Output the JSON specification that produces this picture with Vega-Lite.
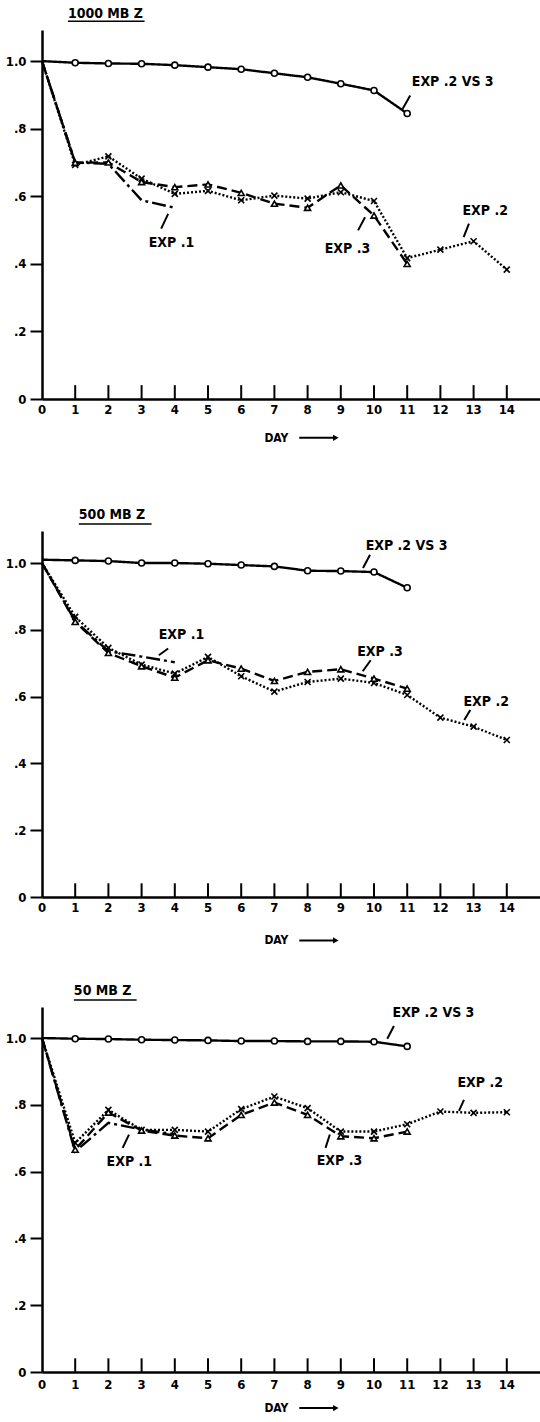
{
  "$schema": "https://vega.github.io/schema/vega-lite/v6.json",
  "padding": {"top": 7, "left": 5, "right": 0, "bottom": 0},
  "background": "white",
  "config": {
    "view": {"stroke": null},
    "font": "DejaVu Sans Condensed",
    "text": {"font": "DejaVu Sans Condensed", "fontWeight": "bold", "color": "black"},
    "axis": {"domainColor": "black", "tickColor": "black", "labelColor": "black", "labelFont": "DejaVu Sans Condensed", "labelFontWeight": "bold", "labelFontSize": 13, "grid": false, "title": null, "labelOverlap": false}
  },
  "datasets": {
    "one": [{}],
    "series": [
      {"p": "1000", "s": "EXP .2 VS 3", "d": 0, "v": 1.0},
      {"p": "1000", "s": "EXP .2 VS 3", "d": 1, "v": 0.995},
      {"p": "1000", "s": "EXP .2 VS 3", "d": 2, "v": 0.993},
      {"p": "1000", "s": "EXP .2 VS 3", "d": 3, "v": 0.992},
      {"p": "1000", "s": "EXP .2 VS 3", "d": 4, "v": 0.988},
      {"p": "1000", "s": "EXP .2 VS 3", "d": 5, "v": 0.982},
      {"p": "1000", "s": "EXP .2 VS 3", "d": 6, "v": 0.976},
      {"p": "1000", "s": "EXP .2 VS 3", "d": 7, "v": 0.964},
      {"p": "1000", "s": "EXP .2 VS 3", "d": 8, "v": 0.952},
      {"p": "1000", "s": "EXP .2 VS 3", "d": 9, "v": 0.933},
      {"p": "1000", "s": "EXP .2 VS 3", "d": 10, "v": 0.913},
      {"p": "1000", "s": "EXP .2 VS 3", "d": 11, "v": 0.845},
      {"p": "1000", "s": "EXP .1", "d": 0, "v": 1.0},
      {"p": "1000", "s": "EXP .1", "d": 1, "v": 0.70},
      {"p": "1000", "s": "EXP .1", "d": 2, "v": 0.696},
      {"p": "1000", "s": "EXP .1", "d": 3, "v": 0.588},
      {"p": "1000", "s": "EXP .1", "d": 4, "v": 0.566},
      {"p": "1000", "s": "EXP .2", "d": 0, "v": 1.0},
      {"p": "1000", "s": "EXP .2", "d": 1, "v": 0.693},
      {"p": "1000", "s": "EXP .2", "d": 2, "v": 0.718},
      {"p": "1000", "s": "EXP .2", "d": 3, "v": 0.652},
      {"p": "1000", "s": "EXP .2", "d": 4, "v": 0.607},
      {"p": "1000", "s": "EXP .2", "d": 5, "v": 0.616},
      {"p": "1000", "s": "EXP .2", "d": 6, "v": 0.588},
      {"p": "1000", "s": "EXP .2", "d": 7, "v": 0.602},
      {"p": "1000", "s": "EXP .2", "d": 8, "v": 0.593},
      {"p": "1000", "s": "EXP .2", "d": 9, "v": 0.612},
      {"p": "1000", "s": "EXP .2", "d": 10, "v": 0.586},
      {"p": "1000", "s": "EXP .2", "d": 11, "v": 0.417},
      {"p": "1000", "s": "EXP .2", "d": 12, "v": 0.442},
      {"p": "1000", "s": "EXP .2", "d": 13, "v": 0.467},
      {"p": "1000", "s": "EXP .2", "d": 14, "v": 0.383},
      {"p": "1000", "s": "EXP .3", "d": 0, "v": 1.0},
      {"p": "1000", "s": "EXP .3", "d": 1, "v": 0.699},
      {"p": "1000", "s": "EXP .3", "d": 2, "v": 0.70},
      {"p": "1000", "s": "EXP .3", "d": 3, "v": 0.642},
      {"p": "1000", "s": "EXP .3", "d": 4, "v": 0.627},
      {"p": "1000", "s": "EXP .3", "d": 5, "v": 0.635},
      {"p": "1000", "s": "EXP .3", "d": 6, "v": 0.61},
      {"p": "1000", "s": "EXP .3", "d": 7, "v": 0.578},
      {"p": "1000", "s": "EXP .3", "d": 8, "v": 0.566},
      {"p": "1000", "s": "EXP .3", "d": 9, "v": 0.632},
      {"p": "1000", "s": "EXP .3", "d": 10, "v": 0.543},
      {"p": "1000", "s": "EXP .3", "d": 11, "v": 0.40},
      {"p": "500", "s": "EXP .2 VS 3", "d": 0, "v": 1.01},
      {"p": "500", "s": "EXP .2 VS 3", "d": 1, "v": 1.008},
      {"p": "500", "s": "EXP .2 VS 3", "d": 2, "v": 1.006},
      {"p": "500", "s": "EXP .2 VS 3", "d": 3, "v": 1.0},
      {"p": "500", "s": "EXP .2 VS 3", "d": 4, "v": 1.0},
      {"p": "500", "s": "EXP .2 VS 3", "d": 5, "v": 0.998},
      {"p": "500", "s": "EXP .2 VS 3", "d": 6, "v": 0.994},
      {"p": "500", "s": "EXP .2 VS 3", "d": 7, "v": 0.99},
      {"p": "500", "s": "EXP .2 VS 3", "d": 8, "v": 0.977},
      {"p": "500", "s": "EXP .2 VS 3", "d": 9, "v": 0.976},
      {"p": "500", "s": "EXP .2 VS 3", "d": 10, "v": 0.973},
      {"p": "500", "s": "EXP .2 VS 3", "d": 11, "v": 0.926},
      {"p": "500", "s": "EXP .1", "d": 0, "v": 1.0},
      {"p": "500", "s": "EXP .1", "d": 1, "v": 0.826},
      {"p": "500", "s": "EXP .1", "d": 2, "v": 0.736},
      {"p": "500", "s": "EXP .1", "d": 3, "v": 0.72},
      {"p": "500", "s": "EXP .1", "d": 4, "v": 0.703},
      {"p": "500", "s": "EXP .2", "d": 0, "v": 1.0},
      {"p": "500", "s": "EXP .2", "d": 1, "v": 0.839},
      {"p": "500", "s": "EXP .2", "d": 2, "v": 0.746},
      {"p": "500", "s": "EXP .2", "d": 3, "v": 0.696},
      {"p": "500", "s": "EXP .2", "d": 4, "v": 0.669},
      {"p": "500", "s": "EXP .2", "d": 5, "v": 0.719},
      {"p": "500", "s": "EXP .2", "d": 6, "v": 0.661},
      {"p": "500", "s": "EXP .2", "d": 7, "v": 0.615},
      {"p": "500", "s": "EXP .2", "d": 8, "v": 0.644},
      {"p": "500", "s": "EXP .2", "d": 9, "v": 0.654},
      {"p": "500", "s": "EXP .2", "d": 10, "v": 0.641},
      {"p": "500", "s": "EXP .2", "d": 11, "v": 0.605},
      {"p": "500", "s": "EXP .2", "d": 12, "v": 0.537},
      {"p": "500", "s": "EXP .2", "d": 13, "v": 0.51},
      {"p": "500", "s": "EXP .2", "d": 14, "v": 0.47},
      {"p": "500", "s": "EXP .3", "d": 0, "v": 1.0},
      {"p": "500", "s": "EXP .3", "d": 1, "v": 0.824},
      {"p": "500", "s": "EXP .3", "d": 2, "v": 0.731},
      {"p": "500", "s": "EXP .3", "d": 3, "v": 0.691},
      {"p": "500", "s": "EXP .3", "d": 4, "v": 0.657},
      {"p": "500", "s": "EXP .3", "d": 5, "v": 0.709},
      {"p": "500", "s": "EXP .3", "d": 6, "v": 0.684},
      {"p": "500", "s": "EXP .3", "d": 7, "v": 0.647},
      {"p": "500", "s": "EXP .3", "d": 8, "v": 0.674},
      {"p": "500", "s": "EXP .3", "d": 9, "v": 0.682},
      {"p": "500", "s": "EXP .3", "d": 10, "v": 0.654},
      {"p": "500", "s": "EXP .3", "d": 11, "v": 0.624},
      {"p": "50", "s": "EXP .2 VS 3", "d": 0, "v": 1.0},
      {"p": "50", "s": "EXP .2 VS 3", "d": 1, "v": 0.998},
      {"p": "50", "s": "EXP .2 VS 3", "d": 2, "v": 0.997},
      {"p": "50", "s": "EXP .2 VS 3", "d": 3, "v": 0.995},
      {"p": "50", "s": "EXP .2 VS 3", "d": 4, "v": 0.994},
      {"p": "50", "s": "EXP .2 VS 3", "d": 5, "v": 0.993},
      {"p": "50", "s": "EXP .2 VS 3", "d": 6, "v": 0.991},
      {"p": "50", "s": "EXP .2 VS 3", "d": 7, "v": 0.991},
      {"p": "50", "s": "EXP .2 VS 3", "d": 8, "v": 0.99},
      {"p": "50", "s": "EXP .2 VS 3", "d": 9, "v": 0.99},
      {"p": "50", "s": "EXP .2 VS 3", "d": 10, "v": 0.989},
      {"p": "50", "s": "EXP .2 VS 3", "d": 11, "v": 0.975},
      {"p": "50", "s": "EXP .1", "d": 0, "v": 1.0},
      {"p": "50", "s": "EXP .1", "d": 1, "v": 0.66},
      {"p": "50", "s": "EXP .1", "d": 2, "v": 0.746},
      {"p": "50", "s": "EXP .1", "d": 3, "v": 0.726},
      {"p": "50", "s": "EXP .1", "d": 4, "v": 0.712},
      {"p": "50", "s": "EXP .2", "d": 0, "v": 1.0},
      {"p": "50", "s": "EXP .2", "d": 1, "v": 0.686},
      {"p": "50", "s": "EXP .2", "d": 2, "v": 0.785},
      {"p": "50", "s": "EXP .2", "d": 3, "v": 0.725},
      {"p": "50", "s": "EXP .2", "d": 4, "v": 0.725},
      {"p": "50", "s": "EXP .2", "d": 5, "v": 0.72},
      {"p": "50", "s": "EXP .2", "d": 6, "v": 0.787},
      {"p": "50", "s": "EXP .2", "d": 7, "v": 0.825},
      {"p": "50", "s": "EXP .2", "d": 8, "v": 0.79},
      {"p": "50", "s": "EXP .2", "d": 9, "v": 0.72},
      {"p": "50", "s": "EXP .2", "d": 10, "v": 0.72},
      {"p": "50", "s": "EXP .2", "d": 11, "v": 0.742},
      {"p": "50", "s": "EXP .2", "d": 12, "v": 0.78},
      {"p": "50", "s": "EXP .2", "d": 13, "v": 0.776},
      {"p": "50", "s": "EXP .2", "d": 14, "v": 0.778},
      {"p": "50", "s": "EXP .3", "d": 0, "v": 1.0},
      {"p": "50", "s": "EXP .3", "d": 1, "v": 0.666},
      {"p": "50", "s": "EXP .3", "d": 2, "v": 0.777},
      {"p": "50", "s": "EXP .3", "d": 3, "v": 0.723},
      {"p": "50", "s": "EXP .3", "d": 4, "v": 0.708},
      {"p": "50", "s": "EXP .3", "d": 5, "v": 0.70},
      {"p": "50", "s": "EXP .3", "d": 6, "v": 0.77},
      {"p": "50", "s": "EXP .3", "d": 7, "v": 0.807},
      {"p": "50", "s": "EXP .3", "d": 8, "v": 0.77},
      {"p": "50", "s": "EXP .3", "d": 9, "v": 0.706},
      {"p": "50", "s": "EXP .3", "d": 10, "v": 0.70},
      {"p": "50", "s": "EXP .3", "d": 11, "v": 0.72}
    ],
    "ticks": [
      {"d": 0}, {"d": 1}, {"d": 2}, {"d": 3}, {"d": 4}, {"d": 5}, {"d": 6}, {"d": 7},
      {"d": 8}, {"d": 9}, {"d": 10}, {"d": 11}, {"d": 12}, {"d": 13}, {"d": 14}
    ],
    "labels": [
      {"p": "1000", "t": "EXP .2 VS 3", "d": 12.37, "v": 0.937},
      {"p": "1000", "t": "EXP .1", "d": 3.9, "v": 0.462},
      {"p": "1000", "t": "EXP .3", "d": 9.2, "v": 0.445},
      {"p": "1000", "t": "EXP .2", "d": 13.35, "v": 0.556},
      {"p": "500", "t": "EXP .2 VS 3", "d": 10.98, "v": 1.051},
      {"p": "500", "t": "EXP .1", "d": 4.2, "v": 0.784},
      {"p": "500", "t": "EXP .3", "d": 10.18, "v": 0.734},
      {"p": "500", "t": "EXP .2", "d": 13.38, "v": 0.583},
      {"p": "50", "t": "EXP .2 VS 3", "d": 11.79, "v": 1.075},
      {"p": "50", "t": "EXP .1", "d": 2.63, "v": 0.628},
      {"p": "50", "t": "EXP .3", "d": 8.96, "v": 0.631},
      {"p": "50", "t": "EXP .2", "d": 13.2, "v": 0.864}
    ],
    "leaders": [
      {"p": "1000", "d": 10.86, "v": 0.858, "d2": 11.09, "v2": 0.898},
      {"p": "1000", "d": 3.59, "v": 0.504, "d2": 3.8, "v2": 0.548},
      {"p": "1000", "d": 9.52, "v": 0.499, "d2": 9.73, "v2": 0.538},
      {"p": "1000", "d": 12.7, "v": 0.479, "d2": 12.86, "v2": 0.519},
      {"p": "500", "d": 9.67, "v": 0.985, "d2": 9.88, "v2": 1.025},
      {"p": "500", "d": 3.52, "v": 0.724, "d2": 3.8, "v2": 0.744},
      {"p": "500", "d": 9.66, "v": 0.676, "d2": 9.9, "v2": 0.709},
      {"p": "500", "d": 12.72, "v": 0.53, "d2": 12.9, "v2": 0.56},
      {"p": "50", "d": 10.4, "v": 0.998, "d2": 10.6, "v2": 1.036},
      {"p": "50", "d": 2.43, "v": 0.671, "d2": 2.62, "v2": 0.711},
      {"p": "50", "d": 8.54, "v": 0.671, "d2": 8.67, "v2": 0.711},
      {"p": "50", "d": 12.56, "v": 0.782, "d2": 12.71, "v2": 0.815}
    ]
  },
  "spacing": 63,
  "vconcat": [
    {
      "width": 498, "height": 369,
      "layer": [
        {"data": {"name": "series"}, "transform": [{"filter": "datum.p == '1000'"}],
         "mark": {"type": "line", "color": "black", "strokeWidth": 2.4},
         "encoding": {
           "x": {"field": "d", "type": "quantitative", "scale": {"domain": [0, 15], "nice": false}, "axis": {"values": [0,1,2,3,4,5,6,7,8,9,10,11,12,13,14], "ticks": false, "labels": false, "domainWidth": 2.5}},
           "y": {"field": "v", "type": "quantitative", "scale": {"domain": [0, 1.092], "nice": false, "zero": false}, "axis": {"values": [0,0.1,0.2,0.3,0.4,0.5,0.6,0.7,0.8,0.9,1], "labelExpr": "datum.value == 0 ? '0' : datum.value == 1 ? '1.0' : (round(datum.value*10) % 2 == 0 ? '.' + round(datum.value*10) : '')", "tickSize": 12, "tickWidth": 2, "labelPadding": 4, "domainWidth": 2.5, "labelFlush": false, "labelOverlap": false}},
           "detail": {"field": "s"},
           "strokeDash": {"field": "s", "type": "nominal", "scale": {"domain": ["EXP .2 VS 3", "EXP .1", "EXP .2", "EXP .3"], "range": [[1, 0], [14, 4, 3, 4], [2, 2], [10, 5]]}, "legend": null}
         }},
        {"data": {"name": "series"}, "transform": [{"filter": "datum.p == '1000' && datum.d > 0 && datum.s != 'EXP .1'"}],
         "mark": {"type": "point", "filled": true, "fill": "white", "stroke": "black", "strokeWidth": 1.6, "size": 36, "opacity": 1},
         "encoding": {
           "x": {"field": "d", "type": "quantitative"},
           "y": {"field": "v", "type": "quantitative"},
           "shape": {"field": "s", "type": "nominal", "scale": {"domain": ["EXP .2 VS 3", "EXP .2", "EXP .3"], "range": ["circle", "M-1,-1L1,1M-1,1L1,-1", "triangle-up"]}, "legend": null}
         }},
        {"data": {"name": "ticks"}, "transform": [{"filter": "datum.d > 0"}], "mark": {"type": "rule", "color": "black", "strokeWidth": 2},
         "encoding": {"x": {"field": "d", "type": "quantitative"}, "y": {"datum": 0}, "y2": {"datum": 0.041}}},
        {"data": {"name": "ticks"}, "mark": {"type": "text", "fontSize": 13, "align": "center", "baseline": "middle"},
         "encoding": {"x": {"field": "d", "type": "quantitative"}, "y": {"datum": -0.033}, "text": {"field": "d", "type": "quantitative"}}},
        {"data": {"name": "labels"}, "transform": [{"filter": "datum.p == '1000'"}],
         "mark": {"type": "text", "fontSize": 14, "align": "center", "baseline": "middle"},
         "encoding": {"x": {"field": "d", "type": "quantitative"}, "y": {"field": "v", "type": "quantitative"}, "text": {"field": "t"}}},
        {"data": {"name": "leaders"}, "transform": [{"filter": "datum.p == '1000'"}],
         "mark": {"type": "rule", "color": "black", "strokeWidth": 2},
         "encoding": {"x": {"field": "d", "type": "quantitative"}, "y": {"field": "v", "type": "quantitative"}, "x2": {"field": "d2"}, "y2": {"field": "v2"}}},
        {"data": {"name": "one"}, "mark": {"type": "text", "fontSize": 14, "align": "left", "baseline": "middle"},
         "encoding": {"x": {"datum": 0.78}, "y": {"datum": 1.139}, "text": {"value": "1000 MB Z"}}},
        {"data": {"name": "one"}, "mark": {"type": "rule", "color": "black", "strokeWidth": 1.5},
         "encoding": {"x": {"datum": 0.78}, "x2": {"datum": 3.09}, "y": {"datum": 1.118}}},
        {"data": {"name": "one"}, "mark": {"type": "text", "fontSize": 12, "align": "center", "baseline": "middle"},
         "encoding": {"x": {"datum": 7.06}, "y": {"datum": -0.115}, "text": {"value": "DAY"}}},
        {"data": {"name": "one"}, "mark": {"type": "rule", "color": "black", "strokeWidth": 2},
         "encoding": {"x": {"datum": 7.75}, "x2": {"datum": 8.8}, "y": {"datum": -0.115}}},
        {"data": {"name": "one"}, "mark": {"type": "point", "shape": "triangle-right", "filled": true, "color": "black", "size": 40, "opacity": 1},
         "encoding": {"x": {"datum": 8.85}, "y": {"datum": -0.115}}}
      ]
    },
    {
      "spacing": 36,
      "vconcat": [
        {
          "width": 498, "height": 366,
          "layer": [
            {"data": {"name": "series"}, "transform": [{"filter": "datum.p == '500'"}],
             "mark": {"type": "line", "color": "black", "strokeWidth": 2.4},
             "encoding": {
               "x": {"field": "d", "type": "quantitative", "scale": {"domain": [0, 15], "nice": false}, "axis": {"values": [0,1,2,3,4,5,6,7,8,9,10,11,12,13,14], "ticks": false, "labels": false, "domainWidth": 2.5}},
               "y": {"field": "v", "type": "quantitative", "scale": {"domain": [0, 1.096], "nice": false, "zero": false}, "axis": {"values": [0,0.1,0.2,0.3,0.4,0.5,0.6,0.7,0.8,0.9,1], "labelExpr": "datum.value == 0 ? '0' : datum.value == 1 ? '1.0' : (round(datum.value*10) % 2 == 0 ? '.' + round(datum.value*10) : '')", "tickSize": 12, "tickWidth": 2, "labelPadding": 4, "domainWidth": 2.5, "labelFlush": false, "labelOverlap": false}},
               "detail": {"field": "s"},
               "strokeDash": {"field": "s", "type": "nominal", "scale": {"domain": ["EXP .2 VS 3", "EXP .1", "EXP .2", "EXP .3"], "range": [[1, 0], [14, 4, 3, 4], [2, 2], [10, 5]]}, "legend": null}
             }},
            {"data": {"name": "series"}, "transform": [{"filter": "datum.p == '500' && datum.d > 0 && datum.s != 'EXP .1'"}],
             "mark": {"type": "point", "filled": true, "fill": "white", "stroke": "black", "strokeWidth": 1.6, "size": 36, "opacity": 1},
             "encoding": {
               "x": {"field": "d", "type": "quantitative"},
               "y": {"field": "v", "type": "quantitative"},
               "shape": {"field": "s", "type": "nominal", "scale": {"domain": ["EXP .2 VS 3", "EXP .2", "EXP .3"], "range": ["circle", "M-1,-1L1,1M-1,1L1,-1", "triangle-up"]}, "legend": null}
             }},
            {"data": {"name": "ticks"}, "transform": [{"filter": "datum.d > 0"}], "mark": {"type": "rule", "color": "black", "strokeWidth": 2},
             "encoding": {"x": {"field": "d", "type": "quantitative"}, "y": {"datum": 0}, "y2": {"datum": 0.041}}},
            {"data": {"name": "ticks"}, "mark": {"type": "text", "fontSize": 13, "align": "center", "baseline": "middle"},
             "encoding": {"x": {"field": "d", "type": "quantitative"}, "y": {"datum": -0.033}, "text": {"field": "d", "type": "quantitative"}}},
            {"data": {"name": "labels"}, "transform": [{"filter": "datum.p == '500'"}],
             "mark": {"type": "text", "fontSize": 14, "align": "center", "baseline": "middle"},
             "encoding": {"x": {"field": "d", "type": "quantitative"}, "y": {"field": "v", "type": "quantitative"}, "text": {"field": "t"}}},
            {"data": {"name": "leaders"}, "transform": [{"filter": "datum.p == '500'"}],
             "mark": {"type": "rule", "color": "black", "strokeWidth": 2},
             "encoding": {"x": {"field": "d", "type": "quantitative"}, "y": {"field": "v", "type": "quantitative"}, "x2": {"field": "d2"}, "y2": {"field": "v2"}}},
            {"data": {"name": "one"}, "mark": {"type": "text", "fontSize": 14, "align": "left", "baseline": "middle"},
             "encoding": {"x": {"datum": 1.11}, "y": {"datum": 1.144}, "text": {"value": "500 MB Z"}}},
            {"data": {"name": "one"}, "mark": {"type": "rule", "color": "black", "strokeWidth": 1.5},
             "encoding": {"x": {"datum": 1.11}, "x2": {"datum": 3.3}, "y": {"datum": 1.117}}},
            {"data": {"name": "one"}, "mark": {"type": "text", "fontSize": 12, "align": "center", "baseline": "middle"},
             "encoding": {"x": {"datum": 7.06}, "y": {"datum": -0.13}, "text": {"value": "DAY"}}},
            {"data": {"name": "one"}, "mark": {"type": "rule", "color": "black", "strokeWidth": 2},
             "encoding": {"x": {"datum": 7.75}, "x2": {"datum": 8.8}, "y": {"datum": -0.13}}},
            {"data": {"name": "one"}, "mark": {"type": "point", "shape": "triangle-right", "filled": true, "color": "black", "size": 40, "opacity": 1},
             "encoding": {"x": {"datum": 8.85}, "y": {"datum": -0.13}}}
          ]
        },
        {
          "width": 498, "height": 365,
          "layer": [
            {"data": {"name": "series"}, "transform": [{"filter": "datum.p == '50'"}],
             "mark": {"type": "line", "color": "black", "strokeWidth": 2.4},
             "encoding": {
               "x": {"field": "d", "type": "quantitative", "scale": {"domain": [0, 15], "nice": false}, "axis": {"values": [0,1,2,3,4,5,6,7,8,9,10,11,12,13,14], "ticks": false, "labels": false, "domainWidth": 2.5}},
               "y": {"field": "v", "type": "quantitative", "scale": {"domain": [0, 1.093], "nice": false, "zero": false}, "axis": {"values": [0,0.1,0.2,0.3,0.4,0.5,0.6,0.7,0.8,0.9,1], "labelExpr": "datum.value == 0 ? '0' : datum.value == 1 ? '1.0' : (round(datum.value*10) % 2 == 0 ? '.' + round(datum.value*10) : '')", "tickSize": 12, "tickWidth": 2, "labelPadding": 4, "domainWidth": 2.5, "labelFlush": false, "labelOverlap": false}},
               "detail": {"field": "s"},
               "strokeDash": {"field": "s", "type": "nominal", "scale": {"domain": ["EXP .2 VS 3", "EXP .1", "EXP .2", "EXP .3"], "range": [[1, 0], [14, 4, 3, 4], [2, 2], [10, 5]]}, "legend": null}
             }},
            {"data": {"name": "series"}, "transform": [{"filter": "datum.p == '50' && datum.d > 0 && datum.s != 'EXP .1'"}],
             "mark": {"type": "point", "filled": true, "fill": "white", "stroke": "black", "strokeWidth": 1.6, "size": 36, "opacity": 1},
             "encoding": {
               "x": {"field": "d", "type": "quantitative"},
               "y": {"field": "v", "type": "quantitative"},
               "shape": {"field": "s", "type": "nominal", "scale": {"domain": ["EXP .2 VS 3", "EXP .2", "EXP .3"], "range": ["circle", "M-1,-1L1,1M-1,1L1,-1", "triangle-up"]}, "legend": null}
             }},
            {"data": {"name": "ticks"}, "transform": [{"filter": "datum.d > 0"}], "mark": {"type": "rule", "color": "black", "strokeWidth": 2},
             "encoding": {"x": {"field": "d", "type": "quantitative"}, "y": {"datum": 0}, "y2": {"datum": 0.041}}},
            {"data": {"name": "ticks"}, "mark": {"type": "text", "fontSize": 13, "align": "center", "baseline": "middle"},
             "encoding": {"x": {"field": "d", "type": "quantitative"}, "y": {"datum": -0.04}, "text": {"field": "d", "type": "quantitative"}}},
            {"data": {"name": "labels"}, "transform": [{"filter": "datum.p == '50'"}],
             "mark": {"type": "text", "fontSize": 14, "align": "center", "baseline": "middle"},
             "encoding": {"x": {"field": "d", "type": "quantitative"}, "y": {"field": "v", "type": "quantitative"}, "text": {"field": "t"}}},
            {"data": {"name": "leaders"}, "transform": [{"filter": "datum.p == '50'"}],
             "mark": {"type": "rule", "color": "black", "strokeWidth": 2},
             "encoding": {"x": {"field": "d", "type": "quantitative"}, "y": {"field": "v", "type": "quantitative"}, "x2": {"field": "d2"}, "y2": {"field": "v2"}}},
            {"data": {"name": "one"}, "mark": {"type": "text", "fontSize": 14, "align": "left", "baseline": "middle"},
             "encoding": {"x": {"datum": 0.96}, "y": {"datum": 1.141}, "text": {"value": "50 MB Z"}}},
            {"data": {"name": "one"}, "mark": {"type": "rule", "color": "black", "strokeWidth": 1.5},
             "encoding": {"x": {"datum": 0.96}, "x2": {"datum": 2.85}, "y": {"datum": 1.114}}},
            {"data": {"name": "one"}, "mark": {"type": "text", "fontSize": 12, "align": "center", "baseline": "middle"},
             "encoding": {"x": {"datum": 7.06}, "y": {"datum": -0.108}, "text": {"value": "DAY"}}},
            {"data": {"name": "one"}, "mark": {"type": "rule", "color": "black", "strokeWidth": 2},
             "encoding": {"x": {"datum": 7.75}, "x2": {"datum": 8.8}, "y": {"datum": -0.108}}},
            {"data": {"name": "one"}, "mark": {"type": "point", "shape": "triangle-right", "filled": true, "color": "black", "size": 40, "opacity": 1},
             "encoding": {"x": {"datum": 8.85}, "y": {"datum": -0.108}}}
          ]
        }
      ]
    }
  ]
}
